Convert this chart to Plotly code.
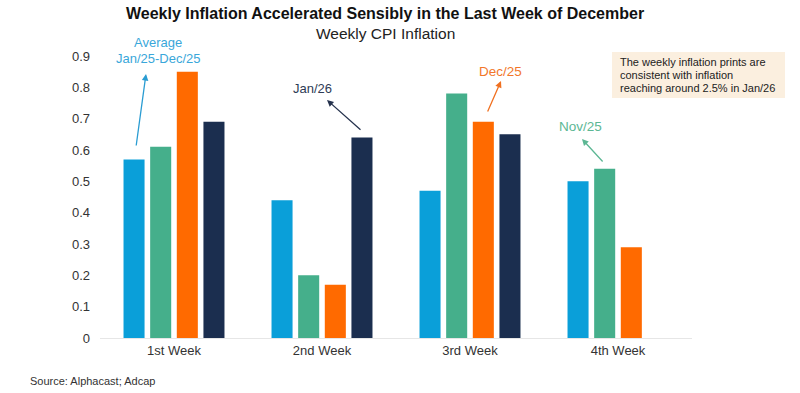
import plotly.graph_objects as go

categories = ["1st Week", "2nd Week", "3rd Week", "4th Week"]
avg_2025 = [0.57, 0.44, 0.47, 0.50]
nov_25 = [0.61, 0.20, 0.78, 0.54]
dec_25 = [0.85, 0.17, 0.69, 0.29]
jan_26 = [0.69, 0.64, 0.65, None]
y_ticks = [0, 0.1, 0.2, 0.3, 0.4, 0.5, 0.6, 0.7, 0.8, 0.9]
y_tick_labels = ["0", "0.1", "0.2", "0.3", "0.4", "0.5", "0.6", "0.7", "0.8", "0.9"]

series = [
    ("Average Jan/25-Dec/25", avg_2025, "#0A9FD9"),
    ("Nov/25", nov_25, "#45AF8B"),
    ("Dec/25", dec_25, "#FF6A00"),
    ("Jan/26", jan_26, "#1B2E4F"),
]

FONT = "Arial, Liberation Sans, sans-serif"

fig = go.Figure()
for name, vals, col in series:
    fig.add_trace(go.Bar(x=categories, y=vals, name=name, marker=dict(color=col, line=dict(width=0))))

L, R, T, B = 100, 692, 56, 338
W, H = 800, 393


def px(x, y):
    return (x - L) / (R - L), (B - y) / (B - T)


anns = []


def text_ann(x, y, text, color, size=12, anchor="center"):
    xp, yp = px(x, y)
    anns.append(dict(x=xp, y=yp, xref="paper", yref="paper", text=text, showarrow=False,
                     xanchor=anchor, yanchor="middle",
                     font=dict(family=FONT, size=size, color=color)))


def arrow(hx, hy, tx, ty, color):
    xp, yp = px(hx, hy)
    anns.append(dict(x=xp, y=yp, xref="paper", yref="paper", text="", showarrow=True,
                     ax=tx - hx, ay=ty - hy, arrowhead=2, arrowsize=1, arrowwidth=1.3,
                     arrowcolor=color))


text_ann(158, 42, "Average", "#3AA7DA", size=13)
text_ann(158, 58, "Jan/25-Dec/25", "#3AA7DA", size=13)
arrow(146, 74, 136, 147, "#2A9CD2")

text_ann(312, 88, "Jan/26", "#2E3B55", size=13)
arrow(327, 100, 362, 131, "#25324D")

text_ann(500, 71, "Dec/25", "#F2772A", size=13.5)
arrow(501, 81, 487, 113, "#F07020")

text_ann(580, 126, "Nov/25", "#5DB794", size=13.5)
arrow(582, 139, 604, 163, "#5DB794")

text_ann(618, 62, "The weekly inflation prints are", "#222222", size=11, anchor="left")
text_ann(618, 75, "consistent with inflation", "#222222", size=11, anchor="left")
text_ann(618, 88, "reaching around 2.5% in Jan/26", "#222222", size=11, anchor="left")

text_ann(385, 14, "<b>Weekly Inflation Accelerated Sensibly in the Last Week of December</b>", "#111111", size=16)
text_ann(385, 33, "Weekly CPI Inflation", "#222222", size=15.5)
text_ann(28, 381, "Source: Alphacast; Adcap", "#333333", size=11, anchor="left")

x0, y0 = px(612, 52)
x1, y1 = px(785, 98)
shapes = [dict(type="rect", xref="paper", yref="paper", x0=x0, y0=y1, x1=x1, y1=y0,
               fillcolor="#FBEFDF", line=dict(width=0), layer="below")]

fig.update_layout(
    width=W, height=H,
    margin=dict(l=L, r=W - R, t=T, b=H - B),
    paper_bgcolor="white", plot_bgcolor="white",
    barmode="group", bargap=0.28, bargroupgap=0.21,
    showlegend=False,
    annotations=anns,
    shapes=shapes,
    font=dict(family=FONT, size=12, color="#333333"),
    xaxis=dict(showgrid=False, showline=True, linecolor="#E6E6E6", linewidth=1, ticks="",
               range=[-0.5, 3.5], tickfont=dict(size=13, color="#333333")),
    yaxis=dict(range=[0, 0.9], showgrid=False, zeroline=False, showline=False,
               tickvals=y_ticks, ticktext=y_tick_labels, ticks="", ticklabelstandoff=9,
               tickfont=dict(size=13, color="#333333")),
)

fig.write_html("out.html", config={"displayModeBar": False},
               post_script="document.body.style.margin='0px';document.body.style.overflow='hidden';")
